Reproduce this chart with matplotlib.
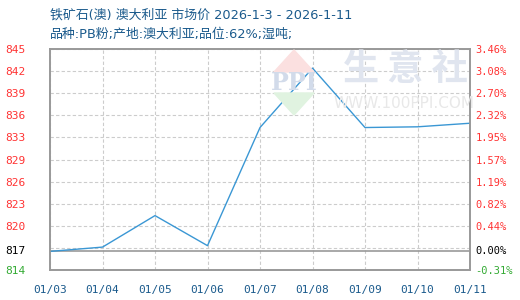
import matplotlib
matplotlib.use("Agg")
import matplotlib.pyplot as plt
from matplotlib.patches import Polygon

plt.rcParams['font.family'] = ['Noto Sans CJK SC', 'DejaVu Sans']

# 数据
dates = ['01/03', '01/04', '01/05', '01/06', '01/07', '01/08', '01/09', '01/10', '01/11']
prices = [817.0, 817.6, 822.0, 817.8, 834.3, 842.6, 834.3, 834.4, 834.9]
base = 817.0
pct_labels = ['-0.31%', '', '0.44%', '0.82%', '1.19%', '1.57%', '1.95%', '2.32%', '2.70%', '3.08%', '3.46%']
price_labels = ['814', '', '820', '823', '826', '829', '833', '836', '839', '842', '845']

title = '铁矿石(澳) 澳大利亚 市场价 2026-1-3 - 2026-1-11'
subtitle = '品种:PB粉;产地:澳大利亚;品位:62%;湿吨;'

y_lo = base * (1 - 0.00318)
y_hi = base * 1.0346
ticks = [y_lo + (y_hi - y_lo) * i / 10 for i in range(11)]

red = '#ff3333'
green = '#33aa33'
blue_txt = '#1a5a8c'
mono = 'DejaVu Sans Mono'

fig = plt.figure(figsize=(5.2, 3.0), dpi=100)
ax = fig.add_axes([50 / 520, 30 / 300, 420 / 520, 221 / 300])


def fx(px):
    return px / 520


def fy(py):
    return (300 - py) / 300


# 水印
top = Polygon([(fx(274), fy(72)), (fx(294), fy(50)), (fx(314), fy(72))],
              closed=True, transform=fig.transFigure, color='#fbe0e0', zorder=0)
bot = Polygon([(fx(274), fy(93)), (fx(294), fy(115)), (fx(314), fy(93))],
              closed=True, transform=fig.transFigure, color='#e0f3e0', zorder=0)
fig.patches.extend([top, bot])
fig.text(fx(294), fy(83), 'PPI', fontsize=17, color='#d2dbea', ha='center', va='center',
         family='DejaVu Serif', fontweight='bold', zorder=1)
fig.text(fx(405), fy(70), '生 意 社', fontsize=26, color='#e0e5ef', ha='center', va='center',
         fontweight='bold', zorder=1)
fig.text(fx(404), fy(104), 'WWW.100PPI.COM', fontsize=11, color='#e8e8e8', ha='center', va='center',
         family='DejaVu Sans', zorder=1)

ax.set_facecolor('none')
ax.plot(range(len(dates)), prices, color='#3a97d4', linewidth=1, zorder=3)
ax.axhline(base, color='#999999', linewidth=1.2, zorder=2)

ax.set_xlim(0, len(dates) - 1)
ax.set_ylim(y_lo, y_hi)
ax.set_xticks(range(len(dates)))
ax.set_xticklabels(dates, color=blue_txt, fontsize=8, family=mono)
ax.set_yticks(ticks)
ax.set_yticklabels(price_labels, fontsize=8, family=mono, ha='left')
for lbl in ax.get_yticklabels():
    lbl.set_color(green if lbl.get_text() == '814' else red)
ax.annotate('817', xy=(0, base), xycoords=ax.get_yaxis_transform(), xytext=(-45, 0),
            textcoords='offset pixels', ha='left', va='center', fontsize=8, family=mono, color='black')

ax2 = ax.twinx()
ax2.set_ylim(y_lo, y_hi)
ax2.set_yticks(ticks)
ax2.set_yticklabels(pct_labels, fontsize=7.5, family=mono)
for lbl in ax2.get_yticklabels():
    lbl.set_color(green if lbl.get_text().startswith('-') else red)
ax2.annotate('0.00%', xy=(1, base), xycoords=ax2.get_yaxis_transform(), xytext=(5, 0),
             textcoords='offset pixels', ha='left', va='center', fontsize=7.5, family=mono, color='black')

ax.grid(True, color='#cccccc', linestyle=(0, (3, 2)), linewidth=0.8)
ax.tick_params(axis='x', length=0, pad=11)
ax.tick_params(axis='y', length=0, pad=32)
ax2.tick_params(length=0, pad=4)
for a in (ax, ax2):
    for s in a.spines.values():
        s.set_color('#999999')
        s.set_linewidth(1.2)

head_font = ['DejaVu Sans', 'Noto Sans CJK SC']
fig.text(fx(50), fy(15), title, fontsize=9.3, color=blue_txt, va='center', family=head_font)
fig.text(fx(50), fy(34), subtitle, fontsize=9.3, color=blue_txt, va='center', family=head_font)

fig.savefig('out.png', dpi=100)
